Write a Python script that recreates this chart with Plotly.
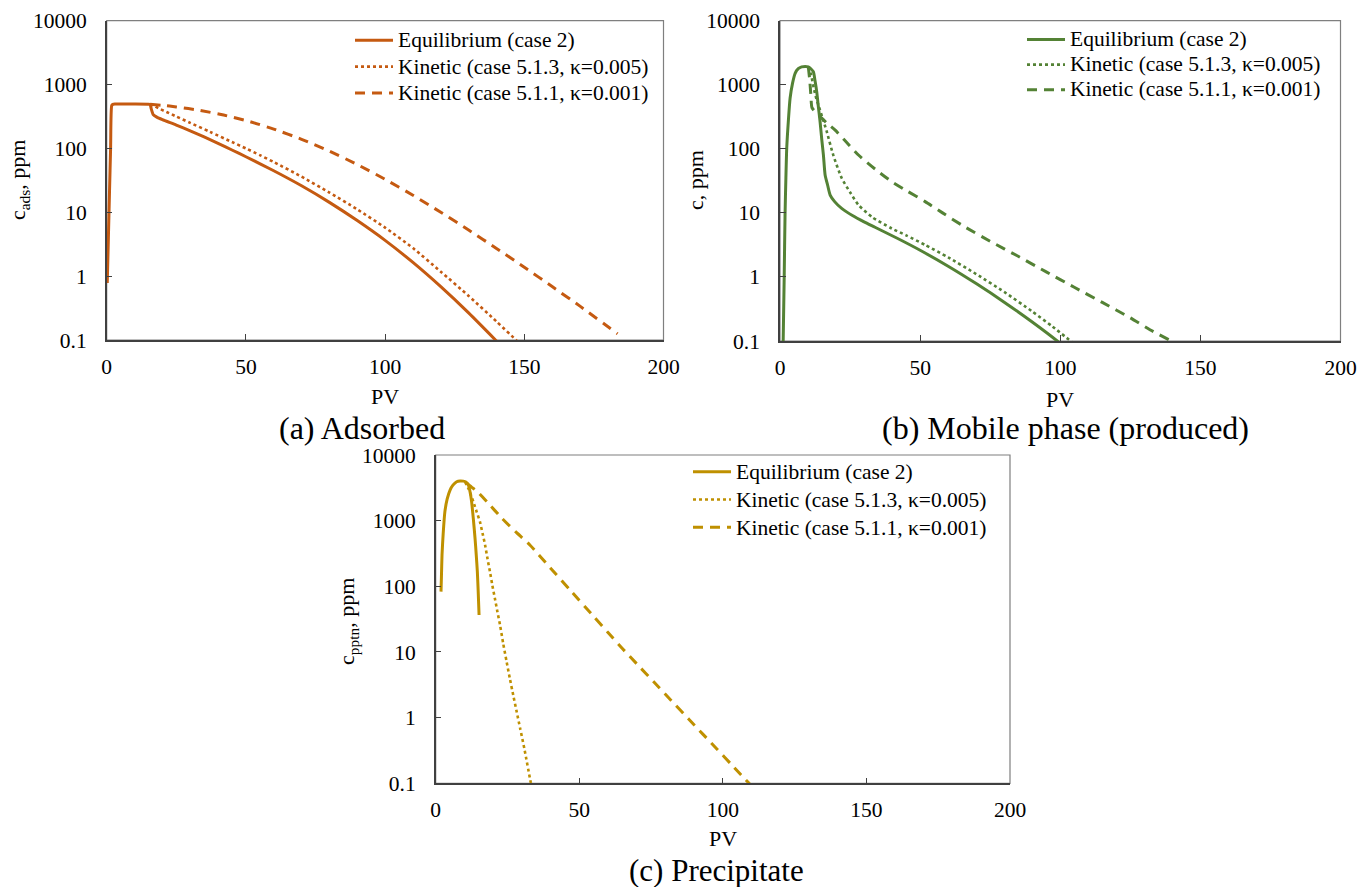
import plotly.graph_objects as go

FONT = "Liberation Serif, Times New Roman, Tinos, DejaVu Serif, serif"

# ---------------- data ----------------
# (a) Adsorbed
a_eq_x = [0.2, 0.6, 1.0, 1.4, 1.8, 2.2, 3, 9, 15.0, 15.6, 16.0, 16.7, 18, 20, 25, 30, 35, 40, 45, 50, 60, 70, 80, 90, 100, 110, 120, 130, 140]
a_eq_y = [0.78, 3.9, 20, 100, 468, 490, 495, 495, 492, 484, 417, 339, 309, 282, 232, 188, 151, 120, 94.4, 74.1, 44.7, 26.0, 14.3, 7.41, 3.63, 1.64, 0.684, 0.266, 0.0966]
a_k5_x = [15.6, 17, 18.5, 21.5, 25, 30, 37.1, 45, 50, 55, 60, 70, 80, 90, 100, 110, 120, 130, 140, 147, 148]
a_k5_y = [490, 468, 427, 372, 316, 251, 182, 126, 100, 78.5, 61.2, 36.1, 20.4, 11.1, 5.75, 2.75, 1.175, 0.49, 0.195, 0.1, 0.09]
a_k1_x = [15.6, 20, 25, 33.5, 42, 51.5, 60, 70, 80, 90, 100, 110, 120, 130, 140, 150, 160, 170, 183.5]
a_k1_y = [490, 473, 447, 394, 333, 262, 201, 139, 90.8, 56.0, 32.8, 18.5, 10.0, 5.28, 2.72, 1.38, 0.687, 0.339, 0.125]

# (b) Mobile phase (produced)
b_eq_x = [1.1, 1.5, 1.8, 2.1, 2.4, 3.0, 3.6, 4.5, 5.4, 6.5, 7.7, 9.0, 10.1, 11.0, 11.9, 12.5, 13.1, 13.7, 14.3, 14.9, 15.5, 16.1, 17.0, 17.9, 19.5, 22, 26, 30, 33.9, 42, 50, 60, 70, 80, 90, 98.8, 99.5]
b_eq_y = [0.08, 1.0, 9.3, 35, 102, 280, 615, 1070, 1510, 1780, 1900, 1930, 1905, 1780, 1600, 1150, 780, 450, 265, 140, 79, 39, 27, 19, 15, 11.75, 9.0, 7.24, 5.96, 3.98, 2.61, 1.47, 0.787, 0.404, 0.198, 0.101, 0.095]
b_k5_x = [10.1, 11.0, 12.0, 13.0, 13.7, 15.2, 16.7, 19, 22, 25, 28, 33, 39.9, 45, 51.8, 60, 70, 80, 90, 97, 104.2]
b_k5_y = [1900, 1500, 900, 600, 483, 300, 185, 80, 35, 21, 13.3, 8.5, 5.7, 4.46, 3.16, 2.02, 1.11, 0.583, 0.289, 0.171, 0.096]
b_k1_x = [10.1, 10.6, 11.0, 11.4, 12.5, 14.3, 16.5, 19.6, 23, 28, 34, 39.9, 45, 51.8, 58, 65.8, 75, 85, 95, 105, 115, 125, 132, 138.7]
b_k1_y = [1900, 1200, 700, 440, 380, 320, 257, 197, 137, 80, 48, 30.7, 22.4, 15, 10, 6.1, 3.6, 2.1, 1.2, 0.69, 0.4, 0.23, 0.15, 0.105]

# (c) Precipitate
c_eq_x = [1.85, 2.0, 2.2, 2.6, 3.2, 4.0, 5.0, 6.0, 7.3, 8.5, 9.6, 10.5, 11.4, 12.0, 12.5, 13.1, 13.7, 14.1, 14.5, 14.8, 15.1]
c_eq_y = [83, 141, 300, 630, 1370, 2140, 2930, 3470, 3920, 4030, 4000, 3890, 3490, 2690, 1950, 1070, 538, 310, 167, 83, 36.6]
c_k5_x = [10.2, 11.5, 13.1, 14.3, 15.4, 16.3, 17.2, 18.0, 18.9, 19.7, 20.6, 21.5, 22.4, 23.5, 24.7, 25.8, 27.0, 28.2, 29.4, 31.0, 32.8, 33.2]
c_k5_y = [3890, 3020, 1950, 1350, 964, 646, 427, 269, 167, 105, 65.8, 40.7, 25.8, 13.5, 7.1, 4.0, 2.2, 1.23, 0.69, 0.316, 0.12, 0.098]
c_k1_x = [10.8, 12.5, 14.3, 18.3, 23.1, 28, 32.8, 40, 46.8, 55, 60, 65, 70, 76, 82, 88, 93.2, 98, 103, 109.3]
c_k1_y = [3715, 3240, 2830, 1840, 1084, 668, 427, 189, 87.9, 34.8, 19.8, 11.3, 6.61, 3.48, 1.83, 0.962, 0.551, 0.33, 0.193, 0.098]

names = ["Equilibrium (case 2)", "Kinetic (case 5.1.3, \u03ba=0.005)", "Kinetic (case 5.1.1, \u03ba=0.001)"]
x_ticks = [0, 50, 100, 150, 200]
y_ticks = [0.1, 1, 10, 100, 1000, 10000]
y_ticktext = ["0.1", "1", "10", "100", "1000", "10000"]

panels = [
    dict(series=[(a_eq_x, a_eq_y), (a_k5_x, a_k5_y), (a_k1_x, a_k1_y)], color="#C55A11"),
    dict(series=[(b_eq_x, b_eq_y), (b_k5_x, b_k5_y), (b_k1_x, b_k1_y)], color="#548235"),
    dict(series=[(c_eq_x, c_eq_y), (c_k5_x, c_k5_y), (c_k1_x, c_k1_y)], color="#BF9000"),
]

W, H = 1360, 887
# plot area pixel boxes (left, top, right, bottom)
boxes = [(106.7, 20.7, 663.5, 340.0), (780.0, 20.7, 1340.5, 341.0), (435.7, 455.0, 1010.0, 783.3)]
dashes = ["solid", "3px,3px", "10px,7px"]

fig = go.Figure()
legend_names = ["legend", "legend2", "legend3"]
for i, p in enumerate(panels):
    suffix = "" if i == 0 else str(i + 1)
    for j, (xs, ys) in enumerate(p["series"]):
        fig.add_trace(go.Scatter(
            x=xs, y=ys, mode="lines",
            name='<span style="font-size:21.5px">' + names[j] + '</span>',
            line=dict(color=p["color"], width=3 if j != 1 else 2.6, dash=dashes[j],
                      shape="spline", smoothing=0.6),
            xaxis="x" + suffix, yaxis="y" + suffix,
            legend=legend_names[i],
        ))

layout = dict(
    width=W, height=H, margin=dict(l=0, r=0, t=0, b=0, autoexpand=False),
    paper_bgcolor="white", plot_bgcolor="white",
    font=dict(family=FONT, size=21, color="black"),
    showlegend=True,
)
shapes = []
for i, (l, t, r, b) in enumerate(boxes):
    suffix = "" if i == 0 else str(i + 1)
    xd = [l / W, r / W]
    yd = [1 - b / H, 1 - t / H]
    layout["xaxis" + suffix] = dict(
        domain=xd, range=[0, 200], tickvals=x_ticks, ticks="inside", ticklen=6,
        tickcolor="#404040", showline=True, linecolor="#404040", linewidth=1.5,
        showgrid=False, zeroline=False, anchor="y" + suffix, automargin=False,
        tickfont=dict(family=FONT, size=21.5, color="black"), ticklabelstandoff=6,
    )
    layout["yaxis" + suffix] = dict(
        domain=yd, type="log", range=[-1, 4], tickvals=y_ticks, ticktext=y_ticktext,
        ticks="inside", ticklen=6, tickcolor="#404040", showline=True,
        linecolor="#404040", linewidth=1.5, showgrid=False, zeroline=False,
        anchor="x" + suffix, automargin=False,
        tickfont=dict(family=FONT, size=21.5, color="black"),
        ticklabelstandoff=14,
    )
    shapes.append(dict(type="rect", xref="x" + suffix + " domain", yref="y" + suffix + " domain",
                       x0=0, x1=1, y0=0, y1=1, line=dict(color="#7f7f7f", width=1.2),
                       layer="below"))
layout["shapes"] = shapes

# (left px, top px, legend font size controlling row spacing)
legend_pos = [(350, 22, 18), (1022, 22, 17), (688, 453, 19)]
for i, (lx, ly, fs) in enumerate(legend_pos):
    layout[legend_names[i]] = dict(
        x=lx / W, y=1 - ly / H, xanchor="left", yanchor="top",
        bgcolor="rgba(0,0,0,0)", font=dict(family=FONT, size=fs, color="black"),
        tracegroupgap=0, itemwidth=38,
    )

ann = []
def add(text, x, y, size=21, angle=0):
    ann.append(dict(text=text, x=x / W, y=1 - y / H, xref="paper", yref="paper",
                    showarrow=False, textangle=angle,
                    font=dict(family=FONT, size=size, color="black"),
                    xanchor="center", yanchor="middle"))

add("c<sub>ads</sub>, ppm", 19, 180, size=22, angle=-90)
add("c, ppm", 696, 180, size=22, angle=-90)
add("c<sub>pptn</sub>, ppm", 348, 622, size=22, angle=-90)
add("PV", 385, 396, size=22)
add("PV", 1060, 399, size=22)
add("PV", 723, 838, size=22)
add("(a) Adsorbed", 362, 428, size=32)
add("(b) Mobile phase (produced)", 1065, 428, size=32)
add("(c) Precipitate", 716, 870, size=31)
layout["annotations"] = ann

fig.update_layout(**layout)
fig.write_html("out.html")
